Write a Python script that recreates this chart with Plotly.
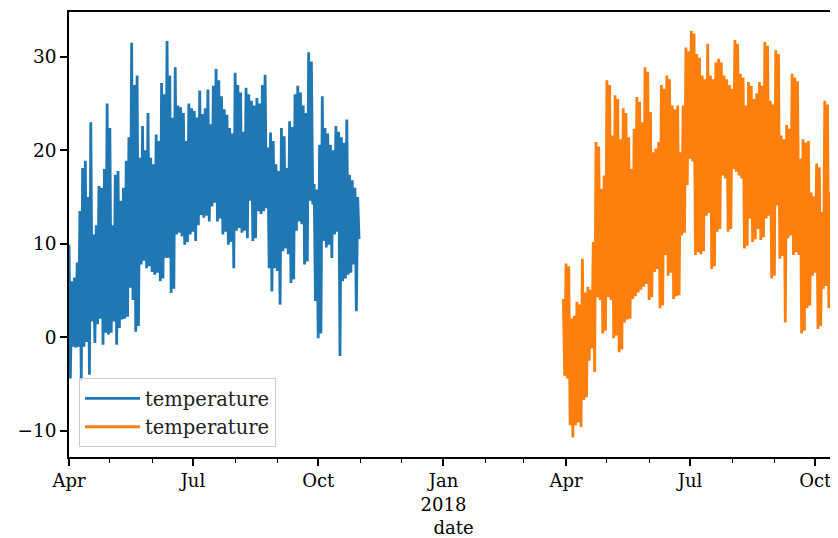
import pandas as pd
import plotly.graph_objects as go

# 2017 season: values every 2 days starting 2017-04-01 (daily high / low swing)
blue_start = "2017-04-01"
blue_hi = [9.9, 6, 6.4, 8, 13.5, 18.1, 18.9, 15, 23, 11, 12, 16.2, 16, 18, 25, 22.4, 12, 17.4, 17.8, 14.6,
           16, 18.9, 21.4, 31.5, 27, 28, 19.2, 22.6, 20, 24, 19.2, 18.5, 21.7, 21, 27.2, 26, 31.7, 28, 23.5, 28.9,
           24.8, 24.6, 24, 21, 25, 24.5, 24.2, 23.5, 26.4, 23.9, 24.5, 26.5, 22.8, 26.9, 28.7, 27.5, 25.8, 24.4, 23.8, 22.4,
           21.8, 28.3, 27, 26.2, 22, 26.7, 26, 25.3, 24.8, 25.6, 25, 27, 28.1, 20.3, 21.9, 21, 18.5, 17.8, 22.4, 21.5,
           18.1, 23.1, 22.5, 26, 26.9, 26.2, 24.8, 24, 30.5, 29.5, 16.4, 15.8, 20.6, 25.8, 22.4, 21.8, 20.6, 20, 22.6, 22,
           21.4, 20.8, 23.3, 17.4, 16.8, 16, 15]
blue_lo = [-4.4, -1, -1.1, -1, -4.7, -1, -0.5, -4, 1.7, -0.6, 1.4, 2, -0.8, 0.5, 0.3, 0.5, 1.7, -0.8, 1, 1.9,
           2, 2.2, 5.3, 4, 0.6, 1.2, 7.8, 8.2, 7.4, 7.6, 7, 6.7, 6.9, 6, 6.3, 8.5, 8.5, 4.75, 5.2, 11,
           11.2, 10.8, 9.9, 10.2, 11, 11.3, 10.3, 12, 13.1, 12.8, 13, 12.4, 14, 14.4, 12.4, 12.7, 11, 11.3, 9.9, 10.2,
           7.4, 11.4, 11.7, 11.2, 11.4, 10.6, 14.6, 10.3, 10.6, 13.5, 13.2, 13.5, 13.8, 7.4, 4.9, 7.4, 7.1, 3.5, 9.2, 9.5,
           8.9, 5.8, 6.2, 11.4, 12.4, 12.1, 7.8, 8.1, 14.6, 14.2, 3.9, -0.1, 0.4, 10.3, 9.6, 9.9, 8.5, 11, 11.3, -2,
           6, 6.3, 6.7, 6.9, 7.8, 2.8, 10.5]

# 2018 season: values every 2 days starting 2018-03-30
orange_start = "2018-03-30"
orange_hi = [4.1, 7.9, 7.6, 2, 2.3, 3.8, 3.5, 8.4, 4.8, 5.4, 5.1, 10.2, 20.9, 20.4, 15.9, 17.3, 27.5, 27, 21.6, 25.9,
             25.5, 21.2, 24.5, 24, 21.4, 18, 22.3, 25.7, 25.2, 23, 28.9, 28.4, 24.1, 19.8, 20.2, 20.9, 27, 26.6, 28, 27.6,
             24.8, 24.4, 24.8, 19.8, 24.8, 31, 30.6, 32.8, 32.5, 30.3, 29.9, 28, 27.6, 31.4, 28, 27.6, 29.4, 29.8, 29.4, 28,
             27.6, 27, 26.6, 31.8, 31.4, 28.2, 27.8, 24.8, 27.3, 26.9, 25.5, 26.1, 27.3, 26.9, 31.6, 31.2, 25.3, 24.9, 30.7, 30.3,
             21.6, 21.2, 22.7, 22.3, 28.2, 27.8, 27.4, 19.1, 21.2, 20.8, 21, 15.5, 15.1, 18.6, 18.2, 13.4, 25.3, 24.9, 15.5, 11.3,
             11, 15.9, 13.8, 7.7, 7.4, 6, 8]
orange_lo = [-4.1, -4.4, -9.4, -10.7, -9.4, -9.1, -9.6, -6.7, -6.4, -2.5, -1.2, -3.7, 4.3, 4, 0.4, 0.7, 4.3, 4, -0.1, 0.2,
             -1.6, -1.3, 1.6, 1.9, 2, 4.1, 4.4, 4.8, 5.1, 5.4, 5.7, 4, 4.3, 7, 7.3, 3.1, 3.4, 8.8, 6.6, 6.9,
             4.1, 4.4, 4.5, 10.9, 11.2, 16.3, 19.1, 18.8, 8.8, 9.1, 8.9, 9.2, 13, 13.3, 7.3, 7.6, 11.3, 11.6, 17.3, 17,
             11.3, 11.6, 18, 17.7, 17.3, 17, 9.5, 9.8, 12.7, 10.2, 10.5, 11.6, 10.4, 10.7, 12.7, 13, 6.3, 6.6, 14.1, 8.4,
             8.7, 1.6, 10.6, 10.9, 8.8, 9.1, 8.8, 0.4, 0.7, 3.1, 3.4, 6.6, 6.9, 0.9, 1.2, 5.2, 5.5, 3.1, 3.4, 3.1,
             -1.7, -1.4, -1.2, -2.6, -2.3, -3, -1]

series_name = "temperature"
x_tick_dates = ["2017-04-01", "2017-07-01", "2017-10-01", "2018-01-01", "2018-04-01", "2018-07-01", "2018-10-01"]
x_tick_labels = ["Apr", "Jul", "Oct", "Jan<br>2018", "Apr", "Jul", "Oct"]
y_tick_vals = [-10, 0, 10, 20, 30]
y_tick_labels = ["\u221210", "0", "10", "20", "30"]


def build(start, hi, lo):
    t0 = pd.Timestamp(start)
    xs, ys = [], []
    for i, (h, l) in enumerate(zip(hi, lo)):
        xs.append(t0 + pd.Timedelta(days=2 * i))
        ys.append(h)
        xs.append(t0 + pd.Timedelta(days=2 * i + 1))
        ys.append(l)
    return xs, ys


bx, by = build(blue_start, blue_hi, blue_lo)
ox, oy = build(orange_start, orange_hi, orange_lo)

fig = go.Figure()
fig.add_trace(go.Scatter(x=bx, y=by, mode="lines", name=series_name,
                         line=dict(color="#1f77b4", width=2.8)))
fig.add_trace(go.Scatter(x=ox, y=oy, mode="lines", name=series_name,
                         line=dict(color="#ff7f0e", width=2.8)))

font_family = "DejaVu Serif"
fig.update_layout(
    width=830, height=530,
    margin=dict(l=61, r=0, t=4, b=81, autoexpand=False),
    plot_bgcolor="white", paper_bgcolor="white",
    font=dict(family=font_family, size=18, color="black"),
    legend=dict(x=0.013, y=0.022, xanchor="left", yanchor="bottom",
                bordercolor="#cccccc", borderwidth=1, bgcolor="rgba(255,255,255,0.8)",
                itemwidth=55, tracegroupgap=0,
                font=dict(family=font_family, size=19.5, color="#222222")),
    xaxis=dict(
        type="date", automargin=False,
        range=["2017-04-01", "2018-10-17 17:00"],
        tickmode="array", tickvals=x_tick_dates, ticktext=x_tick_labels,
        tickfont=dict(size=18),
        ticks="outside", ticklen=7, tickwidth=1.5, tickcolor="black",
        showline=True, linecolor="black", linewidth=1.5, mirror=True,
        showgrid=False, zeroline=False,
        minor=dict(ticks="outside", ticklen=4, tickwidth=1.2, tickcolor="black",
                   dtick="M1", tick0="2017-04-01", showgrid=False),
        title=dict(text="date", standoff=13, font=dict(size=18)),
    ),
    yaxis=dict(
        automargin=False,
        range=[-12.8, 34.8],
        tickmode="array", tickvals=y_tick_vals, ticktext=y_tick_labels,
        tickfont=dict(size=18.5),
        ticks="outside", ticklen=7, tickwidth=1.5, tickcolor="black",
        showline=True, linecolor="black", linewidth=1.5, mirror=False,
        showgrid=False, zeroline=False,
    ),
)

fig.write_html("out.html", config={"displayModeBar": False})
